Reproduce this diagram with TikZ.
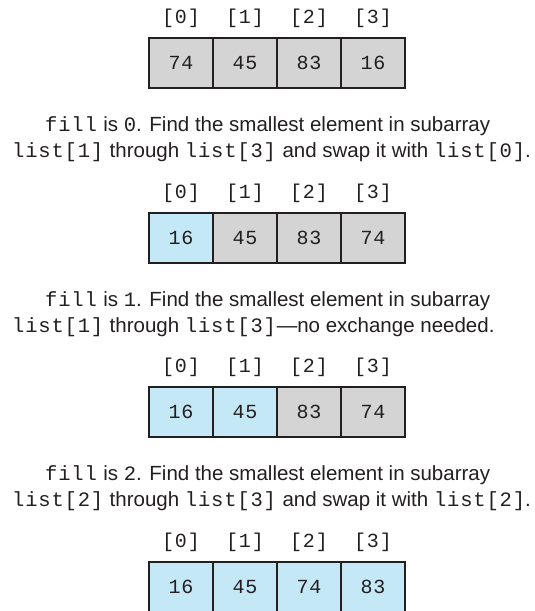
\documentclass[tikz,border=0pt]{standalone}
\usepackage{fontspec}
\setmainfont{Liberation Sans}
\setmonofont[LetterSpace=4]{Liberation Mono}
\definecolor{cellgray}{RGB}{212,212,212}
\definecolor{cellblue}{RGB}{197,232,247}
\definecolor{edge}{RGB}{35,31,32}
\definecolor{txt}{RGB}{35,31,32}
\tikzset{
  cellbox/.style={draw=edge, line width=2pt, minimum width=64pt, minimum height=50pt,
    inner sep=0pt, font=\ttfamily\fontsize{20}{24}\selectfont, text=txt},
  graycell/.style={cellbox, fill=cellgray},
  bluecell/.style={cellbox, fill=cellblue},
  idx/.style={font=\ttfamily\fontsize{20}{24}\selectfont, text=txt, inner sep=0pt},
  caption/.style={font=\fontsize{20.5}{24}\selectfont, text=txt, inner sep=0pt, anchor=base west}
}
\begin{document}
\begin{tikzpicture}[x=1pt,y=1pt]
\useasboundingbox (0,0) rectangle (535,611);
\clip (0,0) rectangle (535,611);
\foreach \i/\x in {0/181,1/245,2/309,3/373}{
  \node[idx] (la\i) at (\x,593) {[\i]};
  \node[idx] (lb\i) at (\x,418) {[\i]};
  \node[idx] (lc\i) at (\x,244) {[\i]};
  \node[idx] (ld\i) at (\x,69) {[\i]};
}
% row 1
\node[graycell] (a0) at (181,548) {74};
\node[graycell] (a1) at (245,548) {45};
\node[graycell] (a2) at (309,548) {83};
\node[graycell] (a3) at (373,548) {16};
\node[caption] (t1) at (45,479) {\texttt{fill} is \texttt{0}. Find the smallest element in subarray};
\node[caption] (t2) at (12,453) {\texttt{list[1]} through \texttt{list[3]} and swap it with \texttt{list[0]}.};
% row 2
\node[bluecell] (b0) at (181,373) {16};
\node[graycell] (b1) at (245,373) {45};
\node[graycell] (b2) at (309,373) {83};
\node[graycell] (b3) at (373,373) {74};
\node[caption] (t3) at (45,304) {\texttt{fill} is \texttt{1}. Find the smallest element in subarray};
\node[caption] (t4) at (12,278) {\texttt{list[1]} through \texttt{list[3]}---no exchange needed.};
% row 3
\node[bluecell] (c0) at (181,199) {16};
\node[bluecell] (c1) at (245,199) {45};
\node[graycell] (c2) at (309,199) {83};
\node[graycell] (c3) at (373,199) {74};
\node[caption] (t5) at (45,130) {\texttt{fill} is \texttt{2}. Find the smallest element in subarray};
\node[caption] (t6) at (12,104) {\texttt{list[2]} through \texttt{list[3]} and swap it with \texttt{list[2]}.};
% row 4
\node[bluecell] (d0) at (181,24) {16};
\node[bluecell] (d1) at (245,24) {45};
\node[bluecell] (d2) at (309,24) {74};
\node[bluecell] (d3) at (373,24) {83};
\end{tikzpicture}
\end{document}
